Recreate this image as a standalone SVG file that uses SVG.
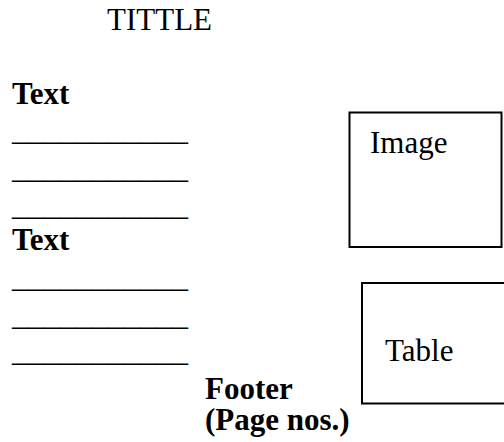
<svg xmlns="http://www.w3.org/2000/svg" width="504" height="442" viewBox="0 0 504 442">
<style>
.t{font-family:"Liberation Serif","Times New Roman",serif;font-size:31px;fill:#000}
.b{font-weight:bold}
.u{font-family:"Liberation Serif","Times New Roman",serif;font-size:32px;fill:#000}
.box{fill:none;stroke:#000;stroke-width:2}
</style>
<rect width="504" height="442" fill="#fff"/>
<g id="title"><text class="t" x="107" y="29.5">TITTLE</text></g>
<g id="text1">
<text class="t b" x="12" y="104">Text</text>
<text class="u" x="12" y="140">___________</text>
<text class="u" x="12" y="177.5">___________</text>
<text class="u" x="12" y="214.5">___________</text>
</g>
<g id="text2">
<text class="t b" x="12" y="250">Text</text>
<text class="u" x="12" y="287.3">___________</text>
<text class="u" x="12" y="324.5">___________</text>
<text class="u" x="12" y="361">___________</text>
</g>
<g id="image">
<rect class="box" x="349.5" y="112.5" width="152" height="134.5"/>
<text class="t" x="370" y="153">Image</text>
</g>
<g id="table">
<rect class="box" x="362" y="283" width="144" height="120.5"/>
<text class="t" x="385" y="360.7">Table</text>
</g>
<g id="footer">
<text class="t b" x="205" y="399">Footer</text>
<text class="t b" x="205" y="430">(Page nos.)</text>
</g>
<g id="connectors"/>
</svg>
